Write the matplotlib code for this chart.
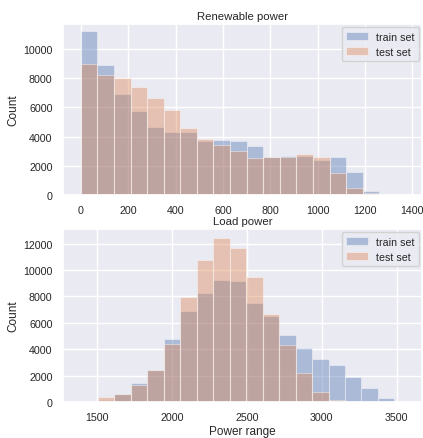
import numpy as np
import matplotlib
matplotlib.use("Agg")
import matplotlib.pyplot as plt
import seaborn as sns

# bin edges
renew_edges = [0, 70, 140, 210, 280, 350, 420, 490, 560, 630, 700,
               770, 840, 910, 980, 1050, 1120, 1190, 1260]
renew_train = [11200, 8930, 6920, 5750, 4680, 4290, 4310, 3700, 3780, 3700,
               3360, 2600, 2660, 2650, 2430, 2580, 1560, 250]
renew_test = [8980, 8220, 7990, 7400, 6620, 5800, 4570, 3800, 3400, 3010,
              2540, 2600, 2580, 2780, 2600, 1510, 510, 140]

load_edges = [1505, 1615, 1725, 1835, 1945, 2055, 2165, 2275, 2385, 2495,
              2605, 2715, 2825, 2935, 3045, 3155, 3265, 3375, 3485]
load_train = [180, 620, 1450, 2450, 4780, 6880, 8260, 9220, 9180, 7500,
              6540, 5110, 4080, 3220, 2830, 1920, 1030, 270]
load_test = [370, 600, 1260, 2420, 4380, 7920, 10750, 12450, 11700, 9440,
             6680, 4290, 2220, 750, 160, 0, 0, 0]

sns.set_theme()
plt.rcParams['font.family'] = ['Liberation Sans', 'DejaVu Sans']

fig = plt.figure(figsize=(4.23, 4.39), dpi=100)
ax1 = fig.add_axes([0.149, 0.5535, 0.849, 0.3895])
ax2 = fig.add_axes([0.149, 0.082, 0.849, 0.394])


def draw(ax, edges, train, test, title, xlim):
    edges = np.array(edges)
    centers = (edges[:-1] + edges[1:]) / 2
    ax.hist(centers, bins=edges, weights=train, alpha=0.4, label='train set',
            edgecolor='white', linewidth=0.8)
    ax.hist(centers, bins=edges, weights=test, alpha=0.4, label='test set',
            edgecolor='white', linewidth=0.8)
    ax.set_title(title, fontsize=8.2, pad=3.5)
    ax.set_ylabel('Count', fontsize=8.5, labelpad=3)
    ax.set_xlim(*xlim)
    ax.tick_params(labelsize=7.7, pad=1.5)
    ax.legend(loc='upper right', fontsize=7.7, borderaxespad=0.3)


draw(ax1, renew_edges, renew_train, renew_test, 'Renewable power', (-75, 1441))
ax1.set_ylim(0, 11700)
ax1.set_yticks([0, 2000, 4000, 6000, 8000, 10000])

draw(ax2, load_edges, load_train, load_test, 'Load power', (1273, 3670))
ax2.set_ylim(0, 13100)
ax2.set_xlabel('Power range', fontsize=8.5, labelpad=2)

fig.savefig('out.png', dpi=100)
